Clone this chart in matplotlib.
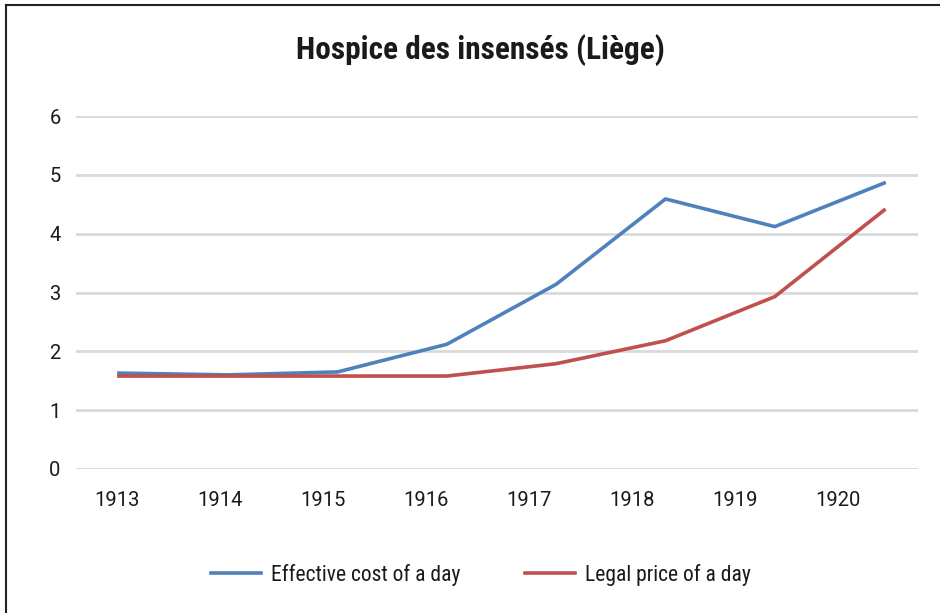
import numpy as np
import matplotlib.pyplot as plt
from matplotlib.lines import Line2D

plt.rcParams["font.family"] = ["Roboto Condensed", "DejaVu Sans"]

years = ["1913", "1914", "1915", "1916", "1917", "1918", "1919", "1920"]
effective_cost = [1.63, 1.60, 1.65, 2.12, 3.14, 4.59, 4.12, 4.86]
legal_price = [1.58, 1.58, 1.58, 1.58, 1.79, 2.18, 2.93, 4.40]

fig = plt.figure(figsize=(9.4, 6.13), dpi=100)
ax = fig.add_axes([76 / 940, 144 / 613, 842 / 940, 353 / 613])

x = np.arange(len(years))
ax.plot(x, effective_cost, color="#4F81BD", lw=2.6, label="Effective cost of a day")
ax.plot(x, legal_price, color="#C0504D", lw=2.6, label="Legal price of a day")

# category labels sit a bit tighter than the plotted points in the original
label_pos = -0.018 + 0.942 * x
ax.set_xticks(label_pos)
ax.set_xticklabels(years, family=["Roboto", "DejaVu Sans"])
ax.set_xlim(-0.393, 7.31)
ax.set_ylim(0, 6)
ax.set_yticks(range(0, 7))
for t in ax.get_yticklabels():
    t.set_family(["Roboto", "DejaVu Sans"])

ax.grid(axis="y", color="#D9D9D9", lw=2)
ax.set_axisbelow(True)
for s in ax.spines.values():
    s.set_visible(False)
ax.tick_params(axis="both", length=0, labelsize=14.5, colors="#1a1a1a")
ax.tick_params(axis="x", pad=16)
ax.tick_params(axis="y", pad=11)

fig.text(480 / 940, 1 - 50 / 613, "Hospice des insensés (Liège)", ha="center",
         va="center", fontsize=22.5, fontweight="bold", color="#1a1a1a")

fig.legend(loc="center", bbox_to_anchor=(481 / 940, 1 - 575 / 613), ncol=2,
           frameon=False, fontsize=15.5, handlelength=2.33, handletextpad=0.46,
           columnspacing=3.0, labelcolor="#1a1a1a")

# frame pieces visible on left and top
fig.add_artist(Line2D([6 / 940, 6 / 940], [0, 1 - 5 / 613], transform=fig.transFigure,
                      color="#222222", lw=1.5))
fig.add_artist(Line2D([6 / 940, 1], [1 - 5 / 613, 1 - 5 / 613], transform=fig.transFigure,
                      color="#222222", lw=1.5))

plt.savefig("out.png", dpi=100)
